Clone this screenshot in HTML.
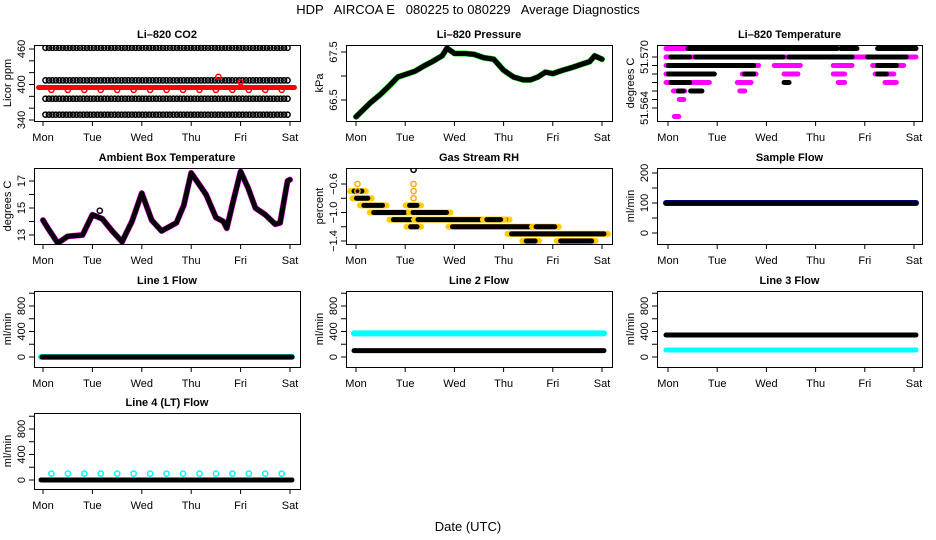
<!DOCTYPE html>
<html><head><meta charset="utf-8"><style>
body{margin:0;background:#fff}
svg{display:block;font-family:"Liberation Sans",sans-serif}
</style></head><body>
<svg id="c" width="936" height="540" viewBox="0 0 936 540">
<text x="468" y="14" text-anchor="middle" font-size="13" style="white-space:pre" xml:space="preserve">HDP   AIRCOA E   080225 to 080229   Average Diagnostics</text>
<text x="468" y="531" text-anchor="middle" font-size="13">Date (UTC)</text>
</svg>
<script>
const days=["Mon","Tue","Wed","Thu","Fri","Sat"];
// CO2 rows
const co2Rows=[462,407,376,349];
const co2Red=[395];
const co2RedPts=[391];
// Pressure
const presT=[0,0.1,0.3,0.5,0.7,0.85,1.0,1.2,1.4,1.55,1.75,1.85,2.0,2.2,2.4,2.6,2.8,3.0,3.2,3.4,3.55,3.7,3.85,4.0,4.2,4.4,4.6,4.75,4.85,5.0];
const presV=[66.15,66.25,66.45,66.62,66.82,66.98,67.03,67.1,67.22,67.3,67.42,67.58,67.47,67.47,67.45,67.38,67.35,67.12,66.98,66.92,66.92,66.98,67.08,67.05,67.12,67.18,67.25,67.3,67.42,67.35];
// Li-820 temperature segments [start,end,value]
const ltMag=[[0,0.45,51.571],[0,5,51.570],[0,1.8,51.569],[2.2,2.65,51.569],[3.4,3.7,51.569],[4.2,4.75,51.569],[0,0.9,51.568],[1.55,1.75,51.568],[2.4,2.6,51.568],[3.4,3.55,51.568],[4.25,4.55,51.568],[0,0.8,51.567],[1.45,1.65,51.567],[3.5,3.55,51.567],[4.45,4.6,51.567],[0.15,0.3,51.566],[1.5,1.52,51.566],[0.27,0.28,51.565],[0.17,0.18,51.563]];
const ltBlk=[[0.45,3.4,51.571],[3.55,3.8,51.571],[4.3,5.0,51.571],[0.1,0.4,51.570],[0.6,2.3,51.570],[2.5,3.7,51.570],[4.1,4.8,51.570],[0.05,0.5,51.569],[0.6,1.7,51.569],[4.3,4.6,51.569],[0.05,0.9,51.568],[1.6,1.7,51.568],[4.3,4.4,51.568],[0.1,0.4,51.567],[2.4,2.42,51.567],[0.25,0.27,51.566],[0.5,0.65,51.566]];
// Ambient box temperature
const ambT=[0,0.1,0.3,0.5,0.8,1.0,1.2,1.4,1.6,1.8,2.0,2.2,2.4,2.7,2.85,3.0,3.15,3.3,3.5,3.65,3.72,3.85,4.0,4.15,4.3,4.5,4.7,4.8,4.95,5.0];
const ambV=[14.1,13.5,12.4,12.9,13.0,14.5,14.2,13.3,12.5,14.0,16.1,14.1,13.3,13.9,15.2,17.6,16.8,16.0,14.3,14.0,13.5,15.5,17.7,16.5,15.0,14.5,13.8,13.9,17.0,17.1];
// Gas stream RH segments
const rhSeg=[[0,0.08,-0.7],[0.05,0.2,-0.8],[0.2,0.5,-0.9],[0.4,0.95,-1.0],[0.8,1.2,-1.1],[1.2,1.8,-1.0],[1.3,3.0,-1.1],[2.0,3.5,-1.2],[3.7,4.0,-1.2],[3.2,5.0,-1.3],[3.5,3.6,-1.4],[4.2,4.75,-1.4],[1.13,1.2,-0.9],[1.15,1.2,-1.2],[2.7,2.9,-1.1]];
const rhSpikeT=[1.17,1.17,1.17,1.17,0.03,0.03];
const rhSpikeV=[-0.4,-0.6,-0.7,-0.8,-0.6,-0.7];
// Flows
const sampleFlow=[100];
const line1Flow=[0];
const line2Black=[100],line2Cyan=[370];
const line3Black=[345],line3Cyan=[110];
const line4Black=[0],line4Cyan=[100];

const NS="http://www.w3.org/2000/svg";
const svg=document.getElementById('c');
function el(t,a,p){const e=document.createElementNS(NS,t);for(const k in a)e.setAttribute(k,a[k]);(p||svg).appendChild(e);return e;}
const cols=[{l:34,r:300,m:43,s:290},{l:346,r:612,m:356,s:602},{l:657,r:922,m:668,s:914}];
const rows=[{t:45,b:121},{t:168,b:244},{t:291,b:367},{t:413,b:489}];

function panel(name,title,ci,ri,v1,p1,v2,p2,ticks,labels,ylab){
  const c=cols[ci],r=rows[ri];
  const g=el('g',{});
  
  
  const xs=d=>c.m+(c.s-c.m)*d/5;
  const ys=v=>p1+(v-v1)*(p2-p1)/(v2-v1);
  const tt=el('text',{x:(c.l+c.r)/2,y:r.t-7,'text-anchor':'middle','font-size':11,'font-weight':'bold'},g);
  tt.textContent=title;
  
  
  const clip='cl'+name;
  const cp=el('clipPath',{id:clip},g);el('rect',{x:c.l,y:r.t,width:c.r-c.l,height:r.b-r.t},cp);
  const pg=el('g',{'clip-path':'url(#'+clip+')'},g);
  const box=el('rect',{x:c.l+.5,y:r.t+.5,width:c.r-c.l,height:r.b-r.t,fill:'none',stroke:'#000','stroke-width':1},g);
  
  
  days.forEach((d,i)=>{const x=xs(i);
    el('line',{x1:x,x2:x,y1:r.b,y2:r.b+5,stroke:'#000'},g);
    const t=el('text',{x:x,y:r.b+20,'text-anchor':'middle','font-size':11},g);t.textContent=d;
    
    
  });
  ticks.forEach(v=>{const y=ys(v);if(y<r.t-6||y>r.b+6)return;
    el('line',{x1:c.l-5,x2:c.l,y1:y,y2:y,stroke:'#000'},g);});
  labels.forEach(s=>{const y=ys(parseFloat(s));
    const t=el('text',{transform:`translate(${c.l-9},${y}) rotate(-90)`,'text-anchor':'middle','font-size':11},g);
    t.textContent=s.replace('-','\u2212');
    
    });
  const yl=el('text',{transform:`translate(${c.l-23},${(r.t+r.b)/2}) rotate(-90)`,'text-anchor':'middle','font-size':11},g);
  yl.textContent=ylab;
  
  
  return {xs,ys,g:pg};
}
function seg(P,t0,t1,v,col,w){const l=el('line',{x1:P.xs(t0)-2,x2:P.xs(t1)+2,y1:P.ys(v),y2:P.ys(v),stroke:col,'stroke-width':w,'stroke-linecap':'round'},P.g);
  
  return l;}
function pt(P,t,v,col){const c=el('circle',{cx:P.xs(t),cy:P.ys(v),r:2.6,fill:'none',stroke:col,'stroke-width':1.5},P.g);
  
  }
function line(P,T,V,col,w){const p=el('polyline',{points:T.map((t,i)=>P.xs(t)+','+P.ys(V[i])).join(' '),fill:'none',stroke:col,'stroke-width':w,'stroke-linejoin':'round','stroke-linecap':'round'},P.g);
  
  }

// CO2
let P=panel('co2-panel','Li\u2013820 CO2',0,0,460,49,340,120,[340,360,380,400,420,440,460],['340','400','460'],'Licor ppm');
co2Rows.forEach(v=>{for(let d=0.05;d<=5;d+=0.07)pt(P,d,v,'#000');});
co2Red.forEach(v=>seg(P,-0.05,5.05,v,'#f00',5));
co2RedPts.forEach(v=>{for(let d=0.17;d<5;d+=0.333)pt(P,d,v,'#f00');});
pt(P,3.55,413,'#f00');pt(P,4.0,404,'#f00');
// Pressure
P=panel('pressure-panel','Li\u2013820 Pressure',1,0,67.5,52,66.5,100,[66.5,67.0,67.5],['66.5','67.5'],'kPa');
line(P,presT,presV,'#1d1',6);line(P,presT,presV,'#000',5);
// Li-820 temperature
P=panel('li820-temp-panel','Li\u2013820 Temperature',2,0,51.570,57,51.564,108,[51.564,51.565,51.566,51.567,51.568,51.569,51.570],['51.564','51.570'],'degrees C');
ltMag.forEach(s=>seg(P,s[0],s[1],s[2],'#f0f',5));
ltBlk.forEach(s=>seg(P,s[0],s[1],s[2],'#000',5));
// Ambient
P=panel('ambient-temp-panel','Ambient Box Temperature',0,1,17,181,13,235,[13,14,15,16,17],['13','15','17'],'degrees C');
line(P,ambT,ambV,'#f0f',6);line(P,ambT,ambV,'#000',5);pt(P,1.15,14.8,'#000');
// RH
P=panel('gas-rh-panel','Gas Stream RH',1,1,-0.6,184,-1.4,241,[-1.4,-1.2,-1.0,-0.8,-0.6],['-1.4','-1.0','-0.6'],'percent');
rhSeg.forEach(s=>{seg(P,s[0]-0.08,s[1]+0.08,s[2],'#fc0',6);seg(P,s[0],s[1],s[2],'#000',5);});
rhSpikeT.forEach((t,i)=>pt(P,t,rhSpikeV[i],i==0?'#000':'#fa0'));
// Sample flow
P=panel('sample-flow-panel','Sample Flow',2,1,200,173,0,233,[0,50,100,150,200],['0','100','200'],'ml/min');
sampleFlow.forEach(v=>{seg(P,0,5,v,'#00f',6);seg(P,0,5,v,'#000',5);});
const fl=[0,200,400,600,800,1000],fll=['0','400','800'];
P=panel('line1-flow-panel','Line 1 Flow',0,2,0,357,800,306,fl,fll,'ml/min');
line1Flow.forEach(v=>{seg(P,0,5,v,'#0ff',6);seg(P,0.02,5,v,'#000',5);});
P=panel('line2-flow-panel','Line 2 Flow',1,2,0,357,800,306,fl,fll,'ml/min');
line2Cyan.forEach(v=>seg(P,0,5,v,'#0ff',6));line2Black.forEach(v=>seg(P,0,5,v,'#000',5));
P=panel('line3-flow-panel','Line 3 Flow',2,2,0,357,800,306,fl,fll,'ml/min');
line3Black.forEach(v=>seg(P,0,5,v,'#000',5));line3Cyan.forEach(v=>seg(P,0,5,v,'#0ff',5));
P=panel('line4-flow-panel','Line 4 (LT) Flow',0,3,0,480,800,429,fl,fll,'ml/min');
line4Black.forEach(v=>seg(P,0,5,v,'#000',5));line4Cyan.forEach(v=>{for(let d=0.17;d<5;d+=0.333)pt(P,d,v,'#0ff');});
</script>
</body></html>
